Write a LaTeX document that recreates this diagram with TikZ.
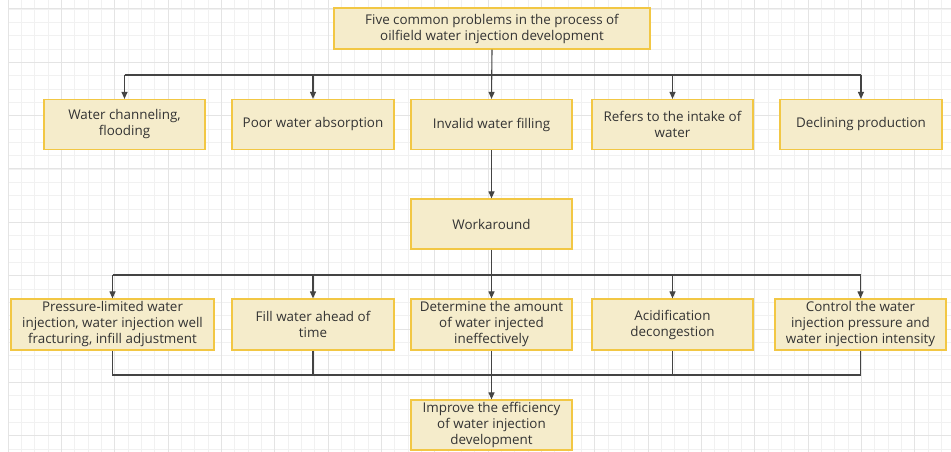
\documentclass[tikz,border=0pt]{standalone}
\usepackage{fontspec}
\setmainfont{Open Sans}
\usetikzlibrary{arrows.meta}
\definecolor{boxfill}{HTML}{F5ECCB}
\definecolor{boxdraw}{HTML}{F2C744}
\definecolor{txt}{HTML}{333333}
\definecolor{ln}{HTML}{444444}
\definecolor{gridminor}{HTML}{F1F1F1}
\definecolor{gridmajor}{HTML}{E4E4E4}
\tikzset{
  box/.style={draw=boxdraw, fill=boxfill, line width=1.2pt, text=txt, align=center,
    font=\fontsize{13.4}{16}\selectfont, inner sep=0pt},
  conn/.style={draw=ln, line width=1.1pt},
  arr/.style={conn, -{Triangle[length=7pt,width=6pt]}},
}
\begin{document}
\begin{tikzpicture}[x=1pt,y=-1pt]
\useasboundingbox (0,0) rectangle (951,452);
\fill[white] (0,0) rectangle (951,452);
% grid
\foreach \i in {0,...,71} {\draw[gridminor, line width=0.8pt] ({8+13.333*\i},0) -- ({8+13.333*\i},452);}
\foreach \j in {0,...,34} {\draw[gridminor, line width=0.8pt] (8,{9+13.333*\j}) -- (951,{9+13.333*\j});}
\foreach \i in {0,...,17} {\draw[gridmajor, line width=1pt] ({8+53.333*\i},0) -- ({8+53.333*\i},452);}
\foreach \j in {0,...,8} {\draw[gridmajor, line width=1pt] (8,{9+53.333*\j}) -- (951,{9+53.333*\j});}

% nodes
\node[box, minimum width=316, minimum height=41] (top) at (492,28.5) {Five common problems in the process of\\oilfield water injection development};
\node[box, minimum width=161, minimum height=50] (p1) at (124.5,124.5) {Water channeling,\\flooding};
\node[box, minimum width=162, minimum height=50] (p2) at (313,124.5) {Poor water absorption};
\node[box, minimum width=161, minimum height=50] (p3) at (491.5,124.5) {Invalid water filling};
\node[box, minimum width=161, minimum height=50] (p4) at (672.5,124.5) {Refers to the intake of\\water};
\node[box, minimum width=162, minimum height=50] (p5) at (861,124.5) {Declining production};
\node[box, minimum width=161, minimum height=50] (wa) at (491.5,224) {Workaround};
\node[box, minimum width=203, minimum height=51] (s1) at (112.5,324.5) {Pressure-limited water\\injection, water injection well\\fracturing, infill adjustment};
\node[box, minimum width=162, minimum height=51] (s2) at (313,324.5) {Fill water ahead of\\time};
\node[box, minimum width=161, minimum height=51] (s3) at (491.5,324.5) {Determine the amount\\of water injected\\ineffectively};
\node[box, minimum width=161, minimum height=51] (s4) at (672.5,324.5) {Acidification\\decongestion};
\node[box, minimum width=171, minimum height=51] (s5) at (860.5,324.5) {Control the water\\injection pressure and\\water injection intensity};
\node[box, minimum width=161, minimum height=50] (fin) at (491.5,425) {Improve the efficiency\\of water injection\\development};

% connectors top
\coordinate (h1) at (491.5,75);
\draw[arr] (top.south) -- (p3.north);
\draw[conn] (p1.north |- h1) -- (p5.north |- h1);
\foreach \n in {p1,p2,p4,p5} {\draw[arr] (\n.north |- h1) -- (\n.north);}
\draw[arr] (p3.south) -- (wa.north);

% connectors middle
\coordinate (h2) at (491.5,275);
\draw[conn] (wa.south) -- (s3.north |- h2);
\draw[conn] (s1.north |- h2) -- (s5.north |- h2);
\foreach \n in {s1,s2,s3,s4,s5} {\draw[arr] (\n.north |- h2) -- (\n.north);}

% connectors bottom
\coordinate (h3) at (491.5,375);
\foreach \n in {s1,s2,s4,s5} {\draw[conn] (\n.south) |- (h3);}
\draw[arr] (s3.south) -- (fin.north);
\end{tikzpicture}
\end{document}
